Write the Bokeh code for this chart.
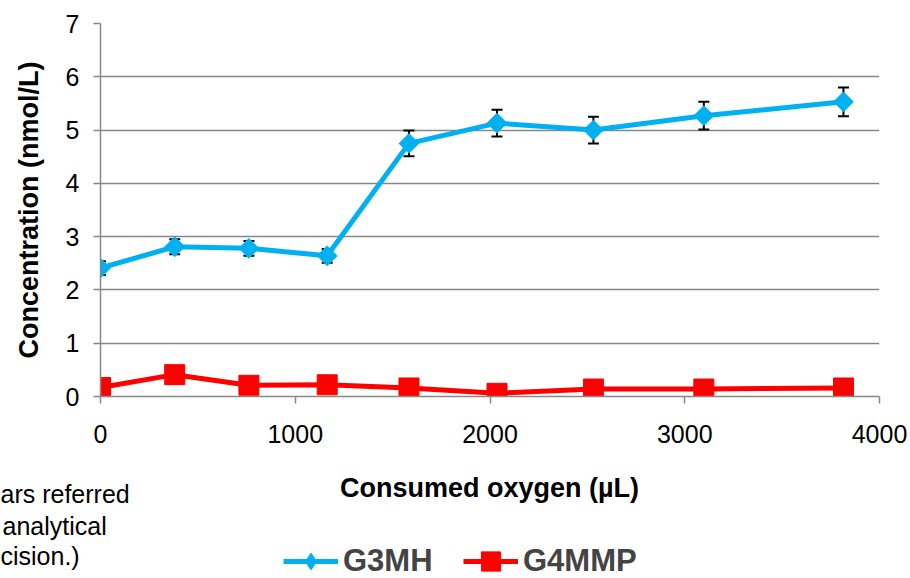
import numpy as np
from bokeh.plotting import figure
from bokeh.layouts import column, row
from bokeh.models import (Range1d, FixedTicker, ColumnDataSource, Whisker, TeeHead,
                          Legend, LegendItem, Label)
from bokeh.embed import file_html
from bokeh.resources import INLINE

# ---- data ----
consumed_oxygen = [0, 381, 762, 1164, 1584, 2036, 2531, 3098, 3815]
g3mh = [2.41, 2.81, 2.78, 2.64, 4.75, 5.13, 5.00, 5.27, 5.53]
g3mh_err = [0.13, 0.14, 0.14, 0.13, 0.24, 0.25, 0.25, 0.26, 0.27]
g4mmp = [0.17, 0.41, 0.21, 0.22, 0.16, 0.06, 0.14, 0.14, 0.16]
x_ticks = [0, 1000, 2000, 3000, 4000]
y_ticks = [0, 1, 2, 3, 4, 5, 6, 7]
series_names = ["G3MH", "G4MMP"]
x_title = "Consumed oxygen (µL)"
y_title = "Concentration (nmol/L)"
note_lines = ["ars referred", "analytical", "cision.)"]

BLUE = "#00B0F0"
RED = "#FF0000"
GRID = "#888888"
FONT = "Liberation Sans"

src = ColumnDataSource(dict(
    x=consumed_oxygen,
    g3=g3mh,
    upper=[v + e for v, e in zip(g3mh, g3mh_err)],
    lower=[v - e for v, e in zip(g3mh, g3mh_err)],
    g4=g4mmp,
))

# ---------------- main chart ----------------
p = figure(width=910, height=470, output_backend="svg", toolbar_location=None,
           x_range=Range1d(0, 4000), y_range=Range1d(0, 7),
           min_border_left=100, min_border_right=31, min_border_top=23,
           min_border_bottom=74)
p.outline_line_color = None
p.xgrid.visible = False
p.ygrid.grid_line_color = GRID
p.ygrid.grid_line_width = 1.5

for ax in (p.xaxis[0], p.yaxis[0]):
    ax.axis_line_color = GRID
    ax.axis_line_width = 1.5
    ax.major_tick_line_color = GRID
    ax.major_tick_line_width = 1.5
    ax.major_tick_out = 7
    ax.major_tick_in = 0
    ax.minor_tick_line_color = None
    ax.major_label_text_font = FONT
    ax.major_label_text_font_size = "25px"
    ax.major_label_text_color = "black"
    ax.axis_label_text_font = FONT
    ax.axis_label_text_font_size = "27px"
    ax.axis_label_text_font_style = "bold"
    ax.axis_label_text_color = "black"

p.xaxis.ticker = FixedTicker(ticks=x_ticks)
p.yaxis.ticker = FixedTicker(ticks=y_ticks)
p.yaxis.axis_label = y_title
p.xaxis.major_label_standoff = 21
p.yaxis.major_label_standoff = 14
p.yaxis.axis_label_standoff = 19

whisk = Whisker(base="x", upper="upper", lower="lower", source=src,
                line_color="black", line_width=2, level="underlay",
                upper_head=TeeHead(size=11, line_color="black", line_width=2),
                lower_head=TeeHead(size=11, line_color="black", line_width=2))
p.add_layout(whisk)

p.line("x", "g3", source=src, line_color=BLUE, line_width=5)
p.scatter("x", "g3", source=src, marker="square", angle=np.pi / 4,
          size=14, fill_color=BLUE, line_color=BLUE)
p.line("x", "g4", source=src, line_color=RED, line_width=5)
p.scatter("x", "g4", source=src, marker="square", size=20,
          fill_color=RED, line_color=RED)

# ---------------- lower strip: x title, note, legend ----------------
q = figure(width=910, height=108, output_backend="svg", toolbar_location=None,
           x_range=Range1d(0, 910), y_range=Range1d(0, 108),
           x_axis_location=None, y_axis_location=None,
           min_border_left=0, min_border_right=0, min_border_top=0,
           min_border_bottom=0)
q.outline_line_color = None
q.grid.visible = False

lb = q.line("x", "g3", source=src, line_color=BLUE, line_width=5, visible=False)
sb = q.scatter("x", "g3", source=src, marker="diamond", size=14,
               fill_color=BLUE, line_color=BLUE, visible=False)
lr = q.line("x", "g4", source=src, line_color=RED, line_width=5, visible=False)
sr = q.scatter("x", "g4", source=src, marker="square", size=20,
               fill_color=RED, line_color=RED, visible=False)

def make_legend(name, renderers, loc, gh):
    return Legend(items=[LegendItem(label=name, renderers=renderers)],
                  location=loc, orientation="horizontal",
                  glyph_width=55, glyph_height=gh, label_height=gh,
                  label_standoff=5, label_text_font=FONT,
                  label_text_font_size="31px", label_text_font_style="bold",
                  padding=0, margin=0, spacing=0,
                  border_line_color=None, background_fill_alpha=0)

# legend centre line at ~17 px above the bottom of the strip
q.add_layout(make_legend(series_names[0], [lb, sb], (283, 17 - 21), 42))
q.add_layout(make_legend(series_names[1], [lr, sr], (463, 17 - 24), 48))

q.add_layout(Label(x=489, y=91, x_units="screen", y_units="screen",
                   text=x_title, text_font=FONT, text_font_size="27px",
                   text_font_style="bold", text_align="center",
                   text_baseline="middle", text_color="black"))

for i, (txt, yy) in enumerate(zip(note_lines, [85, 53, 23])):
    q.add_layout(Label(x=(2 if i == 1 else 0), y=yy, x_units="screen",
                       y_units="screen", text=txt, text_font=FONT,
                       text_font_size="25px", text_baseline="middle",
                       text_color="black"))

layout = column(p, row(q, spacing=0), spacing=0)
open("out.html", "w").write(file_html(layout, INLINE))
